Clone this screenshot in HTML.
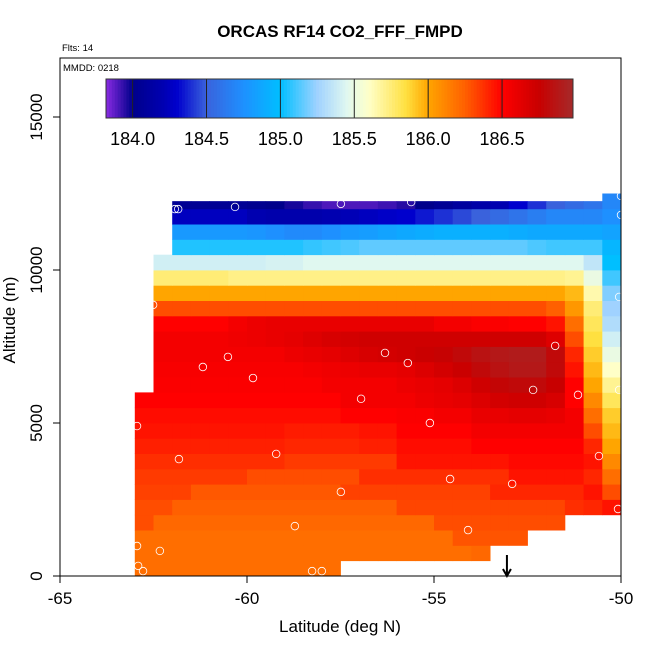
<!DOCTYPE html>
<html><head><meta charset="utf-8"><title>ORCAS RF14 CO2_FFF_FMPD</title>
<style>
html,body{margin:0;padding:0;background:#fff;}
svg{display:block;font-family:"Liberation Sans",Arial,sans-serif;}
</style></head>
<body>
<svg id="chart" width="650" height="650" viewBox="0 0 650 650" xmlns="http://www.w3.org/2000/svg">
  <rect x="0" y="0" width="650" height="650" fill="#fff"/>
  <text x="340" y="37" text-anchor="middle" font-size="17" font-weight="bold">ORCAS RF14 CO2_FFF_FMPD</text>
  <text x="62" y="51" font-size="9.5">Flts: 14</text>
  <g id="cells"></g>
  <g id="points"></g>
  <rect x="60" y="58" width="561" height="518" fill="none" stroke="#000" stroke-width="1"/>
  <text x="63" y="71" font-size="9.5">MMDD: 0218</text>
  <g id="colorbar"></g>
  <g id="axes"></g>
  <text x="340" y="632" text-anchor="middle" font-size="17">Latitude (deg N)</text>
  <text x="0" y="0" transform="translate(15,320) rotate(-90)" text-anchor="middle" font-size="17">Altitude (m)</text>
</svg>
<script>
const N = null;
const lonStart = -63, lonStep = 0.5, altStep = 500;
const xTicks = [-65, -60, -55, -50];
const yTicks = [0, 5000, 10000, 15000];
const cbTicks = [184.0, 184.5, 185.0, 185.5, 186.0, 186.5];
const cbRange = [183.82, 186.98];
const grid = [
[186.2,186.2,186.2,186.2,186.2,186.2,186.2,186.2,186.2,186.2,186.2,N,N,N,N,N,N,N,N,N,N,N,N,N,N,N],
[186.2,186.2,186.2,186.2,186.2,186.2,186.2,186.2,186.2,186.2,186.2,186.2,186.2,186.2,186.2,186.2,186.2,186.2,186.22,N,N,N,N,N,N,N],
[186.2,186.2,186.2,186.2,186.2,186.2,186.2,186.2,186.2,186.2,186.2,186.2,186.2,186.2,186.2,186.2,186.2,186.28,186.28,186.28,186.28,N,N,N,N,N],
[186.3,186.22,186.22,186.22,186.22,186.22,186.22,186.22,186.22,186.22,186.22,186.22,186.22,186.22,186.22,186.22,186.3,186.3,186.3,186.3,186.3,186.3,186.3,N,N,N],
[186.3,186.3,186.25,186.25,186.25,186.25,186.25,186.25,186.25,186.25,186.25,186.25,186.25,186.25,186.32,186.32,186.32,186.32,186.32,186.32,186.32,186.32,186.32,186.38,186.4,186.45],
[186.33,186.33,186.33,186.27,186.27,186.27,186.27,186.27,186.27,186.27,186.27,186.33,186.33,186.33,186.33,186.33,186.33,186.33,186.33,186.4,186.4,186.4,186.4,186.4,186.45,186.3],
[186.35,186.35,186.35,186.35,186.35,186.35,186.3,186.3,186.3,186.3,186.3,186.3,186.38,186.38,186.38,186.38,186.38,186.38,186.38,186.38,186.45,186.45,186.45,186.45,186.4,186.2],
[186.38,186.38,186.38,186.38,186.38,186.38,186.38,186.38,186.35,186.35,186.35,186.35,186.35,186.35,186.45,186.45,186.45,186.45,186.45,186.45,186.48,186.48,186.48,186.48,186.45,186.1],
[186.42,186.42,186.42,186.42,186.42,186.42,186.42,186.42,186.4,186.4,186.4,186.4,186.42,186.42,186.47,186.47,186.47,186.47,186.5,186.5,186.5,186.5,186.5,186.5,186.4,186.0],
[186.45,186.45,186.45,186.45,186.45,186.45,186.45,186.45,186.43,186.43,186.43,186.43,186.45,186.45,186.5,186.5,186.5,186.5,186.55,186.55,186.55,186.55,186.55,186.55,186.3,185.95],
[186.47,186.47,186.47,186.47,186.47,186.47,186.47,186.47,186.47,186.47,186.47,186.5,186.5,186.5,186.52,186.52,186.55,186.55,186.6,186.6,186.62,186.62,186.6,186.55,186.2,185.9],
[186.5,186.5,186.5,186.5,186.5,186.5,186.5,186.5,186.5,186.5,186.5,186.55,186.55,186.55,186.55,186.58,186.6,186.62,186.66,186.7,186.72,186.72,186.68,186.5,186.1,185.8],
[N,186.52,186.52,186.52,186.52,186.52,186.52,186.52,186.52,186.52,186.55,186.55,186.55,186.55,186.58,186.6,186.62,186.66,186.72,186.78,186.8,186.8,186.75,186.5,186.0,185.7],
[N,186.53,186.53,186.53,186.53,186.53,186.53,186.53,186.53,186.55,186.57,186.58,186.6,186.6,186.62,186.66,186.7,186.74,186.8,186.85,186.88,186.88,186.8,186.45,185.95,185.6],
[N,186.55,186.55,186.55,186.55,186.55,186.55,186.55,186.58,186.6,186.62,186.65,186.68,186.7,186.72,186.74,186.76,186.8,186.85,186.88,186.9,186.9,186.8,186.4,185.9,185.5],
[N,186.55,186.55,186.55,186.55,186.57,186.58,186.6,186.62,186.65,186.68,186.7,186.72,186.72,186.72,186.72,186.72,186.72,186.72,186.72,186.72,186.72,186.65,186.3,185.85,185.4],
[N,186.5,186.5,186.5,186.5,186.55,186.58,186.6,186.6,186.6,186.6,186.6,186.6,186.6,186.6,186.6,186.55,186.55,186.52,186.52,186.5,186.5,186.45,186.2,185.8,185.3],
[N,186.3,186.3,186.3,186.3,186.3,186.3,186.3,186.3,186.3,186.3,186.3,186.3,186.3,186.3,186.3,186.3,186.3,186.3,186.3,186.3,186.3,186.25,186.05,185.75,185.25],
[N,186.0,186.0,186.0,186.0,186.0,186.0,186.0,186.0,186.0,186.0,186.0,186.0,186.0,186.0,186.0,186.0,186.0,186.0,186.0,186.0,186.0,186.0,185.95,185.65,185.2],
[N,185.75,185.75,185.75,185.75,185.72,185.72,185.72,185.72,185.72,185.72,185.72,185.72,185.72,185.72,185.72,185.72,185.72,185.72,185.72,185.72,185.72,185.72,185.7,185.5,185.1],
[N,185.4,185.4,185.4,185.4,185.4,185.4,185.42,185.42,185.45,185.45,185.45,185.45,185.45,185.45,185.45,185.45,185.45,185.45,185.45,185.45,185.45,185.45,185.45,185.35,185.0],
[N,N,185.05,185.05,185.05,185.05,185.05,185.05,185.05,185.08,185.1,185.12,185.15,185.15,185.15,185.15,185.15,185.15,185.15,185.15,185.15,185.12,185.1,185.1,185.1,184.95],
[N,N,184.8,184.8,184.8,184.8,184.78,184.75,184.72,184.72,184.75,184.8,184.82,184.85,184.88,184.9,184.92,184.92,184.92,184.92,184.9,184.88,184.88,184.88,184.88,184.85],
[N,N,184.25,184.25,184.25,184.25,184.2,184.18,184.18,184.18,184.2,184.22,184.25,184.28,184.3,184.35,184.4,184.45,184.5,184.55,184.6,184.65,184.7,184.7,184.7,184.75],
[N,N,184.05,184.05,184.05,184.05,184.02,184.0,183.97,183.93,183.9,183.9,183.9,183.92,183.95,184.0,184.05,184.1,184.15,184.2,184.3,184.4,184.5,184.55,184.6,184.7]
];
const ptLon = [-61.93,-61.84,-60.32,-57.49,-55.61,-50.0,-50.0,-62.51,-60.51,-61.18,-59.84,-56.31,-55.70,-56.95,-62.94,-55.11,-51.76,-52.35,-51.15,-50.05,-50.59,-50.08,-61.82,-59.22,-54.57,-52.91,-57.49,-58.72,-54.09,-62.94,-62.33,-62.91,-62.78,-58.26,-58.0,-53.66,-53.53,-53.40,-50.05];
const ptAlt = [11990,11990,12060,12160,12220,12420,11800,8860,7160,6830,6470,7290,6960,5790,4900,5000,7520,6080,5920,9120,3920,2190,3820,3990,3170,3010,2750,1630,1500,980,820,330,160,160,160,330,330,330,6080];
const arrowLon = -53.05;
const dataTop = 12250, edgeTop = 12500;

const NS = 'http://www.w3.org/2000/svg';
const xMin = -65, xMax = -50;
const px0 = 60, px1 = 621, py0 = 576, pyPer = 0.0306;
function X(lon){ return px0 + (lon - xMin) / (xMax - xMin) * (px1 - px0); }
function Y(alt){ return py0 - alt * pyPer; }
const stops = [[183.82,'#8a2be2'],[184.0,'#00008b'],[184.2,'#0000b0'],[184.3,'#0000cd'],[184.5,'#3a62dc'],[184.75,'#1e90ff'],[185.0,'#00bfff'],[185.25,'#a0d2ff'],[185.45,'#e0f8f0'],[185.6,'#ffffc8'],[185.85,'#ffe040'],[186.0,'#ffa500'],[186.25,'#ff6000'],[186.5,'#ff0000'],[186.75,'#c80000'],[186.98,'#a52a2a']];
function hex(c){ return [parseInt(c.slice(1,3),16),parseInt(c.slice(3,5),16),parseInt(c.slice(5,7),16)]; }
function color(v){
  if (v <= stops[0][0]) return stops[0][1];
  for (let i = 1; i < stops.length; i++){
    if (v <= stops[i][0]){
      const t = (v - stops[i-1][0]) / (stops[i][0] - stops[i-1][0]);
      const a = hex(stops[i-1][1]), b = hex(stops[i][1]);
      return 'rgb(' + a.map((q,k)=>Math.round(q + (b[k]-q)*t)).join(',') + ')';
    }
  }
  return stops[stops.length-1][1];
}
function mk(tag, attrs, parent){
  const e = document.createElementNS(NS, tag);
  for (const k in attrs) e.setAttribute(k, attrs[k]);
  parent.appendChild(e);
  return e;
}
const cells = document.getElementById('cells');
grid.forEach((row, r) => {
  row.forEach((v, c) => {
    if (v === null) return;
    const lon0 = lonStart + c * lonStep, lon1 = lon0 + lonStep;
    const a0 = r * altStep;
    let a1 = a0 + altStep;
    const lim = (c === row.length - 1) ? edgeTop : dataTop;
    if (a1 > lim) a1 = lim;
    const x = X(lon0), y = Y(a1);
    const el = mk('rect', {x: x.toFixed(2), y: y.toFixed(2), width: (X(lon1)-x+0.4).toFixed(2), height: (Y(a0)-y+0.4).toFixed(2), fill: color(v)}, cells);
    
    
  });
});
const pts = document.getElementById('points');
ptLon.forEach((lon, i) => {
  const el = mk('circle', {cx: X(lon).toFixed(2), cy: Y(ptAlt[i]).toFixed(2), r: 3.8, fill: 'none', stroke: '#ffffff', 'stroke-width': 0.8}, pts);
  
  
});
const ax = X(arrowLon);
const arr = mk('path', {d: 'M' + ax + ' 555 L' + ax + ' 575 M' + (ax-4) + ' 569 L' + ax + ' 576 L' + (ax+4) + ' 569', stroke: '#000', 'stroke-width': 2, fill: 'none'}, pts);


const cb = document.getElementById('colorbar');
const cbx0 = 106, cbx1 = 573, cby0 = 79, cby1 = 118;
function CX(v){ return cbx0 + (v - cbRange[0]) / (cbRange[1] - cbRange[0]) * (cbx1 - cbx0); }
for (let i = 0; i < 160; i++){
  const v0 = cbRange[0] + (cbRange[1]-cbRange[0]) * i / 160;
  const v1 = cbRange[0] + (cbRange[1]-cbRange[0]) * (i+1) / 160;
  const el = mk('rect', {x: CX(v0).toFixed(2), y: cby0, width: (CX(v1)-CX(v0)+0.5).toFixed(2), height: cby1-cby0, fill: color((v0+v1)/2)}, cb);
  
  
}
cbTicks.forEach(t => {
  const el = mk('line', {x1: CX(t), x2: CX(t), y1: cby0, y2: cby1, stroke: '#222', 'stroke-width': 1}, cb);
  
  
  const tx = mk('text', {x: CX(t), y: 145, 'text-anchor': 'middle', 'font-size': 18}, cb);
  tx.textContent = t.toFixed(1);
  
  
});
const cbb = mk('rect', {x: cbx0, y: cby0, width: cbx1-cbx0, height: cby1-cby0, fill: 'none', stroke: '#333', 'stroke-width': 1}, cb);


const axes = document.getElementById('axes');
xTicks.forEach(t => {
  const l = mk('line', {x1: X(t), x2: X(t), y1: 576, y2: 583, stroke: '#000'}, axes);
  
  
  const tx = mk('text', {x: X(t), y: 604, 'text-anchor': 'middle', 'font-size': 17}, axes);
  tx.textContent = String(t);
  
  
});
yTicks.forEach(t => {
  const l = mk('line', {x1: 53, x2: 60, y1: Y(t), y2: Y(t), stroke: '#000'}, axes);
  
  
  const tx = mk('text', {x: 0, y: 0, transform: 'translate(42,' + Y(t) + ') rotate(-90)', 'text-anchor': 'middle', 'font-size': 17}, axes);
  tx.textContent = String(t);
  
  
});
</script>
</body></html>
